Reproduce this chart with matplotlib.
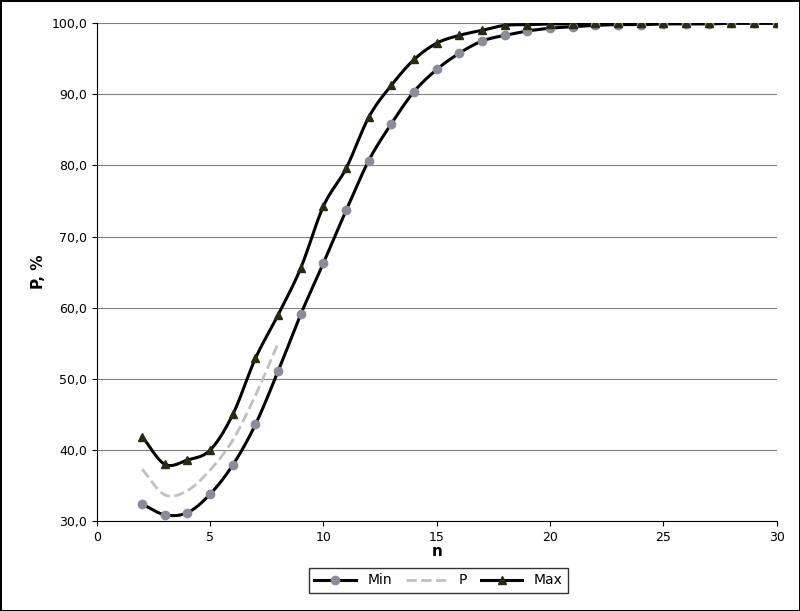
import matplotlib
matplotlib.use("Agg")
import matplotlib.pyplot as plt
import numpy as np

n = list(range(2, 31))
p_min = [32.4, 30.9, 31.2, 33.8, 37.9, 43.6, 51.1, 59.1, 66.3, 73.7, 80.7, 85.9, 90.4, 93.5,
         95.8, 97.5, 98.3, 98.9, 99.3, 99.5, 99.7, 99.8, 99.8, 99.9, 99.9, 99.9, 100.0, 100.0, 100.0]
p_max = [41.9, 38.0, 38.6, 40.0, 45.0, 52.9, 59.0, 65.6, 74.3, 79.6, 86.8, 91.3, 94.9, 97.2,
         98.3, 99.0, 99.7, 99.8, 99.9, 99.9, 100.0, 100.0, 100.0, 100.0, 100.0, 100.0, 100.0, 100.0, 100.0]
p_n = [2, 3, 4, 5, 6, 7, 8]
p_mid = [37.3, 33.7, 34.3, 37.2, 41.4, 47.7, 55.0]


def smooth(x, y, k=20):
    # Catmull-Rom curve through points, like Excel's smoothed line
    x = np.asarray(x, float)
    y = np.asarray(y, float)
    px = np.concatenate([[2 * x[0] - x[1]], x, [2 * x[-1] - x[-2]]])
    py = np.concatenate([[2 * y[0] - y[1]], y, [2 * y[-1] - y[-2]]])
    t = np.linspace(0, 1, k)[:, None]
    xs, ys = [], []
    for i in range(1, len(px) - 2):
        for arr, out in ((px, xs), (py, ys)):
            p0, p1, p2, p3 = arr[i - 1:i + 3]
            v = 0.5 * (2 * p1 + (-p0 + p2) * t + (2 * p0 - 5 * p1 + 4 * p2 - p3) * t ** 2
                       + (-p0 + 3 * p1 - 3 * p2 + p3) * t ** 3)
            out.append(v.ravel())
    return np.concatenate(xs), np.concatenate(ys)


fig = plt.figure(figsize=(8, 6.11), dpi=100)
fig.patch.set_edgecolor("black")
fig.patch.set_linewidth(1)
ax = fig.add_axes([0.121, 0.147, 0.85, 0.815])

sx, sy = smooth(n, p_min)
ax.plot(sx, sy, color="black", lw=2.2, zorder=3)
ax.plot(n, p_min, "o", color="#8a8d99", ms=6, zorder=4)
sx, sy = smooth(p_n, p_mid)
ax.plot(sx, sy, color="#c0c0c0", lw=2, ls="--", zorder=2)
sx, sy = smooth(n, p_max)
ax.plot(sx, sy, color="black", lw=2.2, zorder=3)
ax.plot(n, p_max, "^", color="#2a2a10", ms=6, zorder=4)

ax.set_xlim(0, 30)
ax.set_ylim(30, 100)
ax.set_xticks(range(0, 31, 5))
ax.set_yticks(range(30, 101, 10))
ax.set_yticklabels([f"{v},0" for v in range(30, 101, 10)])
ax.yaxis.grid(True, color="#808080", lw=0.8)
ax.set_axisbelow(True)
ax.tick_params(labelsize=9, direction="out")
for s in ["top", "right"]:
    ax.spines[s].set_visible(False)
ax.set_xlabel("n", fontsize=11, fontweight="bold", labelpad=0)
ax.set_ylabel("P, %", fontsize=11, fontweight="bold")

from matplotlib.lines import Line2D
handles = [Line2D([], [], color="black", lw=2.2, marker="o", mfc="#8a8d99", mec="#8a8d99", ms=6),
           Line2D([], [], color="#c0c0c0", lw=2, ls="--"),
           Line2D([], [], color="black", lw=2.2, marker="^", mfc="#2a2a10", mec="#2a2a10", ms=6)]
fig.legend(handles, ["Min", "P", "Max"], loc="center", bbox_to_anchor=(0.548, 0.05), ncol=3,
           frameon=True, fancybox=False, edgecolor="black", fontsize=10, handlelength=3,
           columnspacing=1.0)

fig.savefig("out.png", dpi=100, edgecolor=fig.get_edgecolor())
